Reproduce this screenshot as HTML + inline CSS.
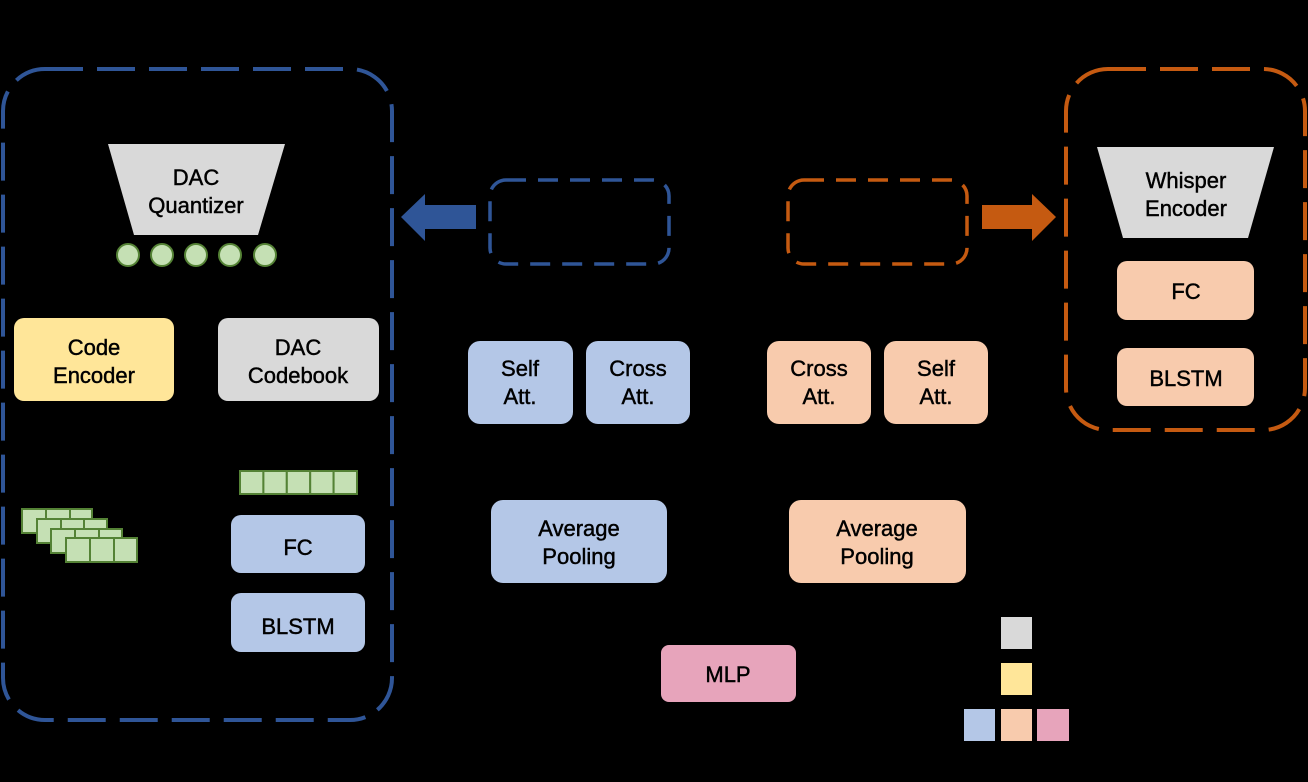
<!DOCTYPE html>
<html><head><meta charset="utf-8"><style>
html,body{margin:0;padding:0;background:#000;}
svg{display:block;font-family:"Liberation Sans","DejaVu Sans",sans-serif;}
svg text{font-family:"Liberation Sans","DejaVu Sans",sans-serif;font-size:22px;fill:#000;stroke:#000;stroke-width:0.45px;text-anchor:middle;}
</style></head><body>
<svg width="1308" height="782" viewBox="0 0 1308 782" xmlns="http://www.w3.org/2000/svg" font-family="Liberation Sans, sans-serif">
<rect width="1308" height="782" fill="#000"/>
<rect x="3" y="69" width="389" height="651" rx="42" fill="none" stroke="#2f5597" stroke-width="4" stroke-dasharray="38 14"/>
<rect x="1066" y="69" width="239" height="361" rx="42" fill="none" stroke="#c55a11" stroke-width="4" stroke-dasharray="38 14"/>
<rect x="490" y="180" width="179" height="84" rx="16" fill="none" stroke="#2f5597" stroke-width="3.5" stroke-dasharray="20 12"/>
<rect x="788" y="180" width="179" height="84" rx="16" fill="none" stroke="#c55a11" stroke-width="3.5" stroke-dasharray="20 12"/>
<polygon points="476,205 425,205 425,194 401,217 425,241 425,229 476,229" fill="#2f5597"/>
<polygon points="982,205 1032,205 1032,194 1056,217 1032,241 1032,229 982,229" fill="#c55a11"/>
<polygon points="108,144 285,144 258,235 134,235" fill="#d9d9d9"/>
<text x="196" y="185" font-family="Liberation Sans">DAC</text>
<text x="196" y="213" font-family="Liberation Sans">Quantizer</text>
<g fill="#c5e0b4" stroke="#548235" stroke-width="2">
<circle cx="128" cy="255" r="11"/><circle cx="162" cy="255" r="11"/><circle cx="196" cy="255" r="11"/><circle cx="230" cy="255" r="11"/><circle cx="265" cy="255" r="11"/>
</g>
<rect x="14" y="318" width="160" height="83" rx="10" fill="#ffe699"/>
<text x="94" y="355" font-family="Liberation Sans">Code</text><text x="94" y="383" font-family="Liberation Sans">Encoder</text>
<rect x="218" y="318" width="161" height="83" rx="10" fill="#d9d9d9"/>
<text x="298" y="355" font-family="Liberation Sans">DAC</text><text x="298" y="383" font-family="Liberation Sans">Codebook</text>
<g fill="#c5e0b4" stroke="#548235" stroke-width="2">
<rect x="240" y="471" width="23.4" height="23"/><rect x="263.4" y="471" width="23.4" height="23"/><rect x="286.8" y="471" width="23.4" height="23"/><rect x="310.2" y="471" width="23.4" height="23"/><rect x="333.6" y="471" width="23.4" height="23"/>
</g>
<g fill="#c5e0b4" stroke="#548235" stroke-width="2">
<rect x="22" y="509" width="24" height="24"/><rect x="46" y="509" width="24" height="24"/><rect x="70" y="509" width="22" height="24"/>
<rect x="37" y="519" width="24" height="24"/><rect x="61" y="519" width="23" height="24"/><rect x="84" y="519" width="23" height="24"/>
<rect x="51" y="529" width="24" height="24"/><rect x="75" y="529" width="24" height="24"/><rect x="99" y="529" width="23" height="24"/>
<rect x="66" y="538" width="24" height="24"/><rect x="90" y="538" width="24" height="24"/><rect x="114" y="538" width="23" height="24"/>
</g>
<rect x="231" y="515" width="134" height="58" rx="10" fill="#b4c7e7"/>
<text x="298" y="555" font-family="Liberation Sans">FC</text>
<rect x="231" y="593" width="134" height="59" rx="10" fill="#b4c7e7"/>
<text x="298" y="634" font-family="Liberation Sans">BLSTM</text>
<polygon points="1097,147 1274,147 1248,238 1123,238" fill="#d9d9d9"/>
<text x="1186" y="188" font-family="Liberation Sans">Whisper</text><text x="1186" y="216" font-family="Liberation Sans">Encoder</text>
<rect x="1117" y="261" width="137" height="59" rx="10" fill="#f8cbad"/>
<text x="1186" y="299" font-family="Liberation Sans">FC</text>
<rect x="1117" y="348" width="137" height="58" rx="10" fill="#f8cbad"/>
<text x="1186" y="386" font-family="Liberation Sans">BLSTM</text>
<rect x="468" y="341" width="105" height="83" rx="12" fill="#b4c7e7"/>
<text x="520" y="376" font-family="Liberation Sans">Self</text><text x="520" y="404" font-family="Liberation Sans">Att.</text>
<rect x="586" y="341" width="104" height="83" rx="12" fill="#b4c7e7"/>
<text x="638" y="376" font-family="Liberation Sans">Cross</text><text x="638" y="404" font-family="Liberation Sans">Att.</text>
<rect x="767" y="341" width="104" height="83" rx="12" fill="#f8cbad"/>
<text x="819" y="376" font-family="Liberation Sans">Cross</text><text x="819" y="404" font-family="Liberation Sans">Att.</text>
<rect x="884" y="341" width="104" height="83" rx="12" fill="#f8cbad"/>
<text x="936" y="376" font-family="Liberation Sans">Self</text><text x="936" y="404" font-family="Liberation Sans">Att.</text>
<rect x="491" y="500" width="176" height="83" rx="12" fill="#b4c7e7"/>
<text x="579" y="536" font-family="Liberation Sans">Average</text><text x="579" y="564" font-family="Liberation Sans">Pooling</text>
<rect x="789" y="500" width="177" height="83" rx="12" fill="#f8cbad"/>
<text x="877" y="536" font-family="Liberation Sans">Average</text><text x="877" y="564" font-family="Liberation Sans">Pooling</text>
<rect x="661" y="645" width="135" height="57" rx="8" fill="#e7a4bb"/>
<text x="728" y="682" font-family="Liberation Sans">MLP</text>
<rect x="1001" y="617" width="31" height="32" fill="#d9d9d9"/>
<rect x="1001" y="663" width="31" height="32" fill="#ffe699"/>
<rect x="964" y="709" width="31" height="32" fill="#b4c7e7"/>
<rect x="1001" y="709" width="31" height="32" fill="#f8cbad"/>
<rect x="1037" y="709" width="32" height="32" fill="#e7a4bb"/>
</svg>
</body></html>
